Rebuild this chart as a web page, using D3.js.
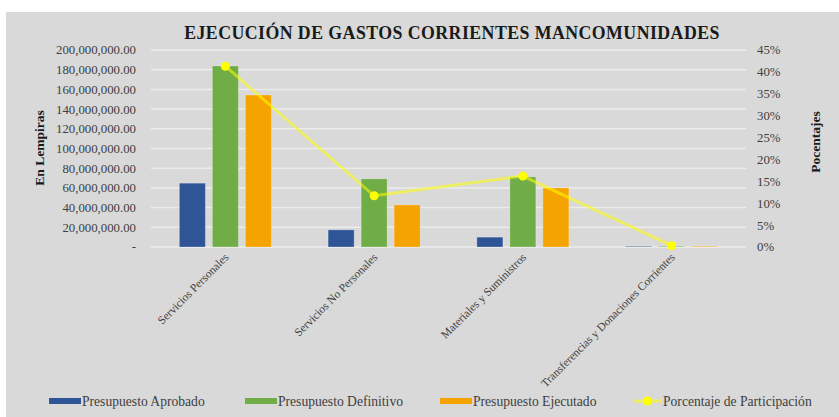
<!DOCTYPE html>
<html><head><meta charset="utf-8">
<script src="https://cdn.jsdelivr.net/npm/d3@7"></script>
<style>body{margin:0;background:#fff}svg{display:block}text{font-family:"Liberation Serif","Times New Roman",serif}</style>
</head><body><svg id="c" width="839" height="417"></svg>
<script>
const categories = ["Servicios Personales","Servicios No Personales","Materiales y Suministros","Transferencias y Donaciones Corrientes"];
const seriesNames = ["Presupuesto Aprobado","Presupuesto Definitivo","Presupuesto Ejecutado"];
const aprobado = [64800000, 17400000, 10000000, 600000];
const definitivo = [183800000, 69200000, 71200000, 700000];
const ejecutado = [154300000, 42700000, 60000000, 650000];
const porcentaje = [0.413, 0.117, 0.162, 0.003];
const leftTicks = [0,20e6,40e6,60e6,80e6,100e6,120e6,140e6,160e6,180e6,200e6];
const rightTicks = [0,0.05,0.10,0.15,0.20,0.25,0.30,0.35,0.40,0.45];
const colors = ["#2f5597","#70ad47","#f4a300"];
const lineName = "Porcentaje de Participación";

const svg = d3.select("#c");
svg.append("rect").attr("x",6).attr("y",12).attr("width",833).attr("height",405).attr("fill","#d9d9d9");

const L=151,R=746,T=50,B=247;
const x = d3.scaleBand().domain(categories).range([L,R]).paddingInner(0).paddingOuter(0);
const yL = d3.scaleLinear().domain([0,200e6]).range([B,T]);
const yR = d3.scaleLinear().domain([0,0.45]).range([B,T]);

// grid
svg.append("g").selectAll("line").data(leftTicks).join("line")
  .attr("x1",L).attr("x2",R).attr("y1",d=>yL(d)).attr("y2",d=>yL(d))
  .attr("stroke","#ececec").attr("stroke-width",1.5);

// left axis labels
const fmt = d3.format(",.2f");
svg.append("g").selectAll("text").data(leftTicks).join("text")
  .attr("x",136).attr("y",d=>yL(d)).attr("dy","0.35em").attr("text-anchor","end")
  .attr("font-size",12.8).attr("fill","#404040")
  .text(d=>d===0?"-":fmt(d));
// right axis labels
svg.append("g").selectAll("text").data(rightTicks).join("text")
  .attr("x",757).attr("y",d=>yR(d)).attr("dy","0.35em").attr("text-anchor","start")
  .attr("font-size",12.8).attr("fill","#404040")
  .text(d=>Math.round(d*100)+"%");

// bars
const bw=26, step=33;
const series=[aprobado,definitivo,ejecutado];
series.forEach((vals,si)=>{
  svg.append("g").selectAll("rect").data(vals).join("rect")
    .attr("x",(d,i)=>x(categories[i])+x.bandwidth()/2+(si-1)*step-bw/2)
    .attr("y",d=>yL(d)).attr("width",bw).attr("height",d=>B-yL(d))
    .attr("fill",colors[si]).attr("stroke","#ffffff").attr("stroke-opacity",0.25).attr("stroke-width",1);
});

// line
const cx = (d,i)=>x(categories[i])+x.bandwidth()/2;
svg.append("path").datum(porcentaje)
  .attr("d",d3.line().x(cx).y(d=>yR(d)))
  .attr("fill","none").attr("stroke","#ffff00").attr("stroke-opacity",0.55).attr("stroke-width",3);
svg.append("g").selectAll("circle").data(porcentaje).join("circle")
  .attr("cx",cx).attr("cy",d=>yR(d)).attr("r",4.5).attr("fill","#ffff00");

// category labels
svg.append("g").selectAll("text").data(categories).join("text")
  .attr("transform",d=>`translate(${x(d)+x.bandwidth()/2+4},${B+11}) rotate(-45)`)
  .attr("text-anchor","end").attr("font-size",11.5).attr("fill","#404040").text(d=>d);

// title
svg.append("text").attr("x",452).attr("y",39).attr("text-anchor","middle")
  .attr("font-size",17.8).attr("font-weight","bold").attr("fill","#1a1a1a").attr("letter-spacing",0.45)
  .text("EJECUCIÓN DE GASTOS CORRIENTES MANCOMUNIDADES");

// axis titles
svg.append("text").attr("transform","translate(44,148) rotate(-90)").attr("text-anchor","middle")
  .attr("font-size",13.5).attr("font-weight","bold").attr("fill","#1a1a1a").text("En Lempiras");
svg.append("text").attr("transform","translate(820,142) rotate(-90)").attr("text-anchor","middle")
  .attr("font-size",13.5).attr("font-weight","bold").attr("fill","#1a1a1a").text("Pocentajes");

// legend
const legX=[49,245,440];
seriesNames.forEach((n,i)=>{
  svg.append("rect").attr("x",legX[i]).attr("y",398).attr("width",32).attr("height",6).attr("fill",colors[i]);
  svg.append("text").attr("x",legX[i]+33).attr("y",401).attr("dy","0.35em").attr("font-size",13.6).attr("fill","#404040").text(n);
});
svg.append("line").attr("x1",634).attr("x2",661).attr("y1",401).attr("y2",401).attr("stroke","#ffff00").attr("stroke-opacity",0.55).attr("stroke-width",3);
svg.append("circle").attr("cx",647.5).attr("cy",401).attr("r",4.5).attr("fill","#ffff00");
svg.append("text").attr("x",663).attr("y",401).attr("dy","0.35em").attr("font-size",13.6).attr("fill","#404040").text(lineName);
</script></body></html>
